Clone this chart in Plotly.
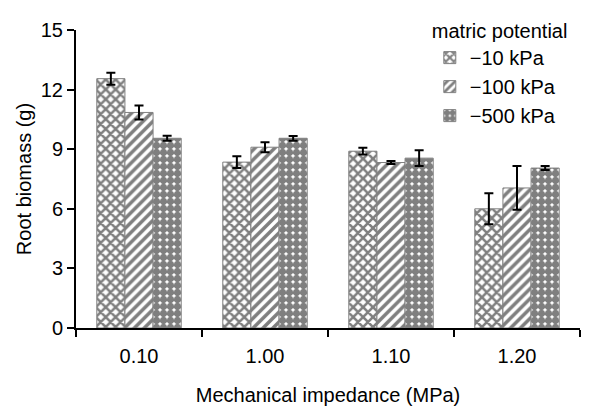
import plotly.graph_objects as go

categories = ["0.10", "1.00", "1.10", "1.20"]
series_names = ["\u221210 kPa", "\u2212100 kPa", "\u2212500 kPa"]
v10 = [12.55, 8.35, 8.9, 6.0]
e10 = [0.3, 0.3, 0.17, 0.78]
v100 = [10.85, 9.1, 8.33, 7.05]
e100 = [0.35, 0.25, 0.08, 1.1]
v500 = [9.55, 9.55, 8.55, 8.05]
e500 = [0.13, 0.12, 0.4, 0.1]
y_ticks = [0, 3, 6, 9, 12, 15]

patterns = [
    dict(shape="x", fgcolor="black", bgcolor="white", size=7, solidity=0.6),
    dict(shape="/", fgcolor="black", bgcolor="white", size=7, solidity=0.5),
    dict(shape=".", fgcolor="black", bgcolor="white", size=7, solidity=0.8),
]

fig = go.Figure()
for name, vals, errs, pat in zip(series_names, [v10, v100, v500], [e10, e100, e500], patterns):
    fig.add_trace(go.Bar(
        x=categories, y=vals, name=name,
        marker=dict(color="white", pattern=pat, line=dict(color="#808080", width=1)),
        error_y=dict(type="data", array=errs, visible=True, color="black", thickness=2, width=4.5),
    ))

font = dict(family="Liberation Sans, Arial, sans-serif", size=20, color="black")
fig.update_layout(
    width=600, height=409,
    margin=dict(l=76, r=20, t=24, b=81),
    paper_bgcolor="white", plot_bgcolor="white",
    font=font,
    barmode="group", bargap=0.33, bargroupgap=0,
    showlegend=True,
    legend=dict(
        title=dict(text="matric potential", side="top", font=font),
        x=0.702, y=1.06, xanchor="left", yanchor="top",
        bgcolor="rgba(0,0,0,0)", font=font, tracegroupgap=0, itemwidth=30,
    ),
    xaxis=dict(
        type="category", tickson="boundaries", ticks="outside", ticklen=7, tickwidth=2,
        tickcolor="black", showline=True, linecolor="black", linewidth=2,
        showgrid=False, zeroline=False, ticklabelstandoff=9, automargin=False,
        title=dict(text="Mechanical impedance (MPa)", font=font, standoff=22),
        tickfont=font,
    ),
    yaxis=dict(
        range=[0, 15], tickvals=y_ticks, ticks="outside", ticklen=7, tickwidth=2,
        tickcolor="black", showline=True, linecolor="black", linewidth=2,
        showgrid=False, zeroline=False, automargin=False,
        title=dict(text="Root biomass (g)", font=font, standoff=4),
        tickfont=font,
    ),
)

fig.write_html("out.html")
